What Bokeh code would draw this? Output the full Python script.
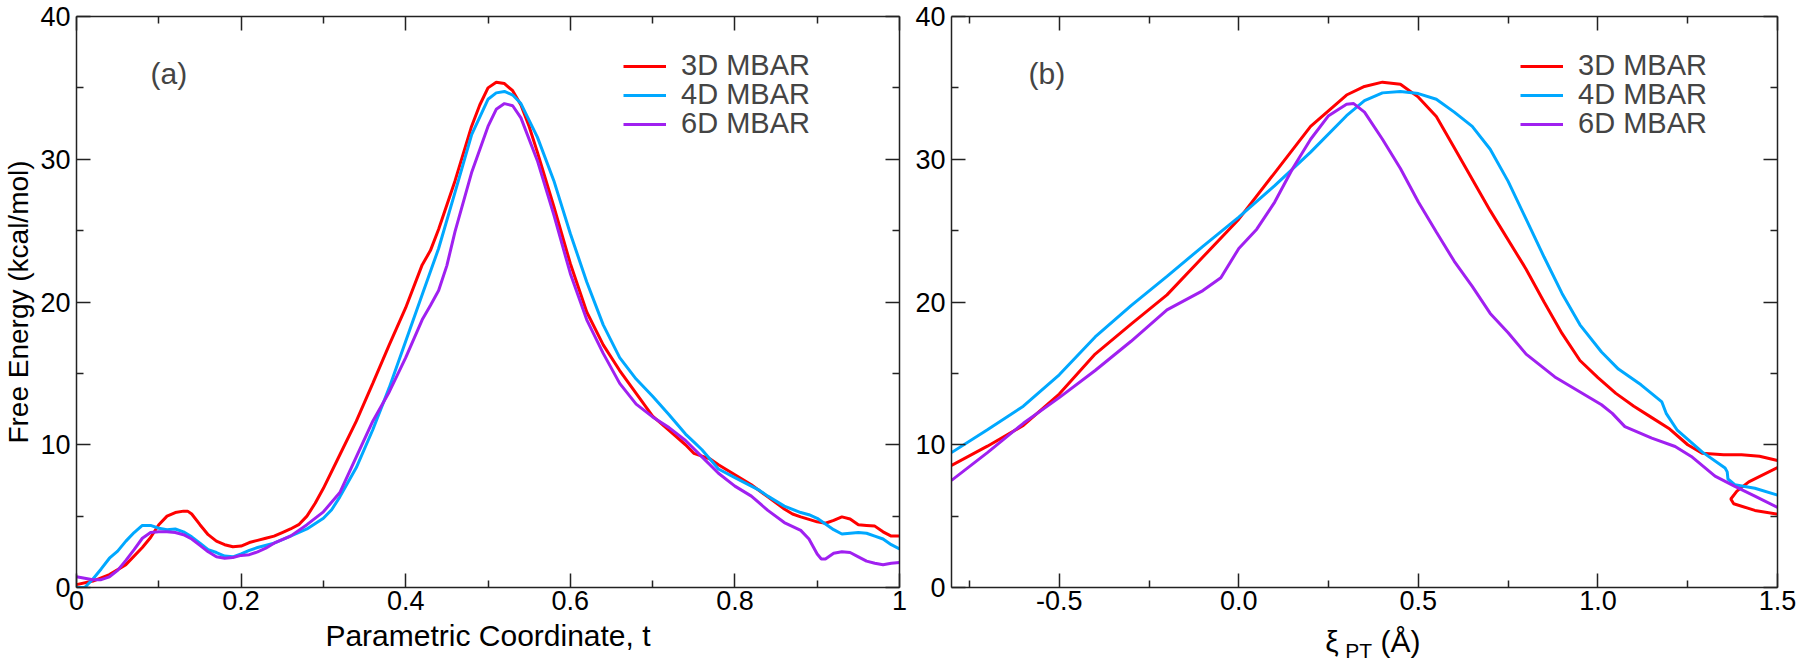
from bokeh.plotting import figure
from bokeh.layouts import row
from bokeh.models import (LinearAxis, FixedTicker, Range1d, Label, Legend, LegendItem,
                          PrintfTickFormatter)
from bokeh.embed import file_html
from bokeh.resources import INLINE

# ---------------- data ----------------
SERIES = ["3D MBAR", "4D MBAR", "6D MBAR"]
COLORS = ["#ff0000", "#00a8ff", "#a020f0"]

# panel (a): free energy vs parametric coordinate t
A_T_3D = [0, 0.02, 0.04, 0.06, 0.08, 0.09, 0.10, 0.11, 0.12, 0.13, 0.135, 0.14, 0.15, 0.16, 0.17,
          0.18, 0.19, 0.20, 0.21, 0.22, 0.23, 0.24, 0.25, 0.26, 0.27, 0.28, 0.29, 0.30, 0.32, 0.34,
          0.36, 0.38, 0.40, 0.42, 0.43, 0.44, 0.46, 0.48, 0.49, 0.50, 0.51, 0.52, 0.53, 0.54, 0.55,
          0.56, 0.58, 0.60, 0.62, 0.64, 0.66, 0.68, 0.70, 0.72, 0.74, 0.75, 0.76, 0.77, 0.78, 0.80,
          0.82, 0.84, 0.86, 0.87, 0.88, 0.90, 0.91, 0.92, 0.93, 0.94, 0.95, 0.96, 0.97, 0.98, 0.99, 1.0]
A_E_3D = [0.2, 0.45, 0.9, 1.6, 2.8, 3.5, 4.4, 5.0, 5.25, 5.35, 5.35, 5.15, 4.4, 3.7, 3.25,
          3.0, 2.85, 2.9, 3.15, 3.3, 3.45, 3.6, 3.85, 4.1, 4.4, 5.0, 5.9, 6.95, 9.3, 11.65,
          14.3, 17.0, 19.6, 22.6, 23.6, 25.1, 28.5, 32.3, 33.8, 35.0, 35.4, 35.3, 34.8, 33.8, 32.3,
          30.5, 26.7, 22.7, 19.3, 17.0, 15.2, 13.6, 12.0, 11.0, 10.0, 9.4, 9.2, 9.0, 8.6, 7.9,
          7.2, 6.35, 5.5, 5.15, 4.95, 4.6, 4.5, 4.7, 4.95, 4.8, 4.4, 4.35, 4.3, 3.9, 3.6, 3.6]

A_T_4D = [0, 0.01, 0.02, 0.03, 0.04, 0.05, 0.06, 0.07, 0.08, 0.09, 0.10, 0.11, 0.12, 0.13, 0.14,
          0.15, 0.16, 0.17, 0.18, 0.19, 0.20, 0.21, 0.22, 0.24, 0.26, 0.28, 0.30, 0.31, 0.32, 0.34,
          0.36, 0.38, 0.40, 0.42, 0.44, 0.46, 0.48, 0.50, 0.51, 0.52, 0.53, 0.54, 0.56, 0.58, 0.60,
          0.62, 0.64, 0.66, 0.68, 0.70, 0.72, 0.74, 0.75, 0.76, 0.78, 0.80, 0.82, 0.83, 0.84, 0.86,
          0.88, 0.89, 0.90, 0.92, 0.93, 0.94, 0.95, 0.96, 0.97, 0.98, 0.99, 1.0]
A_E_4D = [0.0, 0.0, 0.6, 1.3, 2.05, 2.55, 3.25, 3.85, 4.35, 4.35, 4.15, 4.05, 4.1, 3.9, 3.55,
          3.1, 2.65, 2.45, 2.2, 2.15, 2.35, 2.6, 2.8, 3.1, 3.6, 4.1, 4.85, 5.45, 6.35, 8.4,
          11.05, 14.0, 17.25, 20.5, 23.75, 27.7, 31.7, 34.2, 34.65, 34.75, 34.5, 33.9, 31.55, 28.5, 24.8,
          21.4, 18.4, 16.1, 14.6, 13.4, 12.1, 10.75, 10.2, 9.65, 8.3, 7.7, 7.1, 6.8, 6.4, 5.7,
          5.25, 5.1, 4.85, 4.05, 3.75, 3.8, 3.85, 3.8, 3.6, 3.4, 3.0, 2.7]

A_T_6D = [0, 0.01, 0.02, 0.03, 0.04, 0.05, 0.06, 0.07, 0.08, 0.09, 0.10, 0.11, 0.12, 0.13, 0.14,
          0.15, 0.16, 0.17, 0.18, 0.19, 0.20, 0.21, 0.22, 0.23, 0.24, 0.26, 0.28, 0.30, 0.32, 0.34,
          0.36, 0.38, 0.40, 0.42, 0.43, 0.44, 0.45, 0.46, 0.48, 0.50, 0.51, 0.52, 0.53, 0.54, 0.56,
          0.58, 0.60, 0.62, 0.64, 0.66, 0.68, 0.70, 0.72, 0.74, 0.76, 0.78, 0.80, 0.82, 0.84, 0.86,
          0.88, 0.89, 0.90, 0.905, 0.91, 0.92, 0.93, 0.94, 0.95, 0.96, 0.97, 0.98, 0.99, 1.0]
A_E_6D = [0.75, 0.65, 0.55, 0.55, 0.75, 1.2, 1.9, 2.65, 3.45, 3.85, 3.9, 3.9, 3.85, 3.7, 3.4,
          2.95, 2.5, 2.15, 2.05, 2.1, 2.25, 2.3, 2.5, 2.75, 3.1, 3.6, 4.4, 5.3, 6.65, 9.15,
          11.65, 13.7, 16.1, 18.75, 19.75, 20.8, 22.55, 24.95, 29.05, 32.3, 33.5, 33.9, 33.75, 32.9, 29.9,
          26.1, 22.0, 18.75, 16.4, 14.3, 12.85, 11.95, 11.2, 10.3, 9.15, 8.0, 7.1, 6.4, 5.4, 4.55,
          4.0, 3.4, 2.35, 2.0, 2.0, 2.4, 2.5, 2.45, 2.15, 1.85, 1.7, 1.6, 1.7, 1.75]

# panel (b): free energy vs xi_PT (Angstrom)
B_X_3D = [-0.8, -0.7, -0.6, -0.5, -0.4, -0.3, -0.2, -0.1, 0.0, 0.1, 0.2, 0.3, 0.35, 0.4, 0.45,
          0.5, 0.55, 0.6, 0.7, 0.8, 0.85, 0.9, 0.95, 1.0, 1.05, 1.1, 1.15, 1.2, 1.25, 1.29,
          1.35, 1.4, 1.45, 1.5, 1.55, 1.5, 1.42, 1.387, 1.37, 1.378, 1.437, 1.503, 1.55]
B_E_3D = [8.55, 9.9, 11.35, 13.55, 16.35, 18.45, 20.5, 23.15, 25.8, 29.05, 32.3, 34.5, 35.1, 35.4, 35.25,
          34.35, 33.0, 30.8, 26.4, 22.3, 20.0, 17.8, 15.9, 14.7, 13.6, 12.7, 11.9, 11.1, 10.0, 9.4,
          9.3, 9.3, 9.2, 8.9, 8.6, 8.4, 7.4, 6.75, 6.2, 5.87, 5.4, 5.13, 4.95]

B_X_4D = [-0.8, -0.7, -0.6, -0.5, -0.4, -0.3, -0.2, -0.1, 0.0, 0.1, 0.2, 0.3, 0.35, 0.4, 0.45,
          0.5, 0.55, 0.6, 0.65, 0.7, 0.75, 0.8, 0.85, 0.9, 0.95, 1.01, 1.057, 1.12, 1.178, 1.19,
          1.22, 1.29, 1.354, 1.36, 1.362, 1.381, 1.437, 1.503]
B_E_4D = [9.45, 11.05, 12.7, 14.9, 17.55, 19.75, 21.8, 23.9, 25.95, 28.15, 30.5, 33.05, 34.1, 34.65, 34.75,
          34.6, 34.2, 33.3, 32.3, 30.7, 28.45, 25.8, 23.15, 20.6, 18.4, 16.5, 15.3, 14.2, 13.0, 12.2,
          11.05, 9.5, 8.37, 8.1, 7.6, 7.2, 6.95, 6.45]

B_X_6D = [-0.8, -0.7, -0.6, -0.5, -0.4, -0.3, -0.2, -0.1, -0.05, 0.0, 0.05, 0.1, 0.15, 0.2, 0.25,
          0.3, 0.32, 0.35, 0.4, 0.45, 0.5, 0.55, 0.6, 0.65, 0.7, 0.75, 0.8, 0.88, 1.01, 1.04,
          1.075, 1.15, 1.215, 1.26, 1.326, 1.38, 1.437, 1.503]
B_E_6D = [7.5, 9.45, 11.5, 13.3, 15.2, 17.25, 19.45, 20.8, 21.7, 23.75, 25.1, 27.0, 29.35, 31.4, 33.05,
          33.85, 33.9, 33.3, 31.4, 29.35, 27.0, 24.9, 22.85, 21.1, 19.2, 17.85, 16.35, 14.75, 12.8, 12.2,
          11.27, 10.46, 9.88, 9.18, 7.8, 7.1, 6.4, 5.57]

# ticks
A_XTICKS = [0, 0.2, 0.4, 0.6, 0.8, 1.0]
A_XLABELS = ["0", "0.2", "0.4", "0.6", "0.8", "1"]
A_XMINOR = [0.1, 0.3, 0.5, 0.7, 0.9]
B_XTICKS = [-0.5, 0.0, 0.5, 1.0, 1.5]
B_XLABELS = ["-0.5", "0.0", "0.5", "1.0", "1.5"]
B_XMINOR = [-0.75, -0.25, 0.25, 0.75, 1.25]
YTICKS = [0, 10, 20, 30, 40]
YLABELS = ["0", "10", "20", "30", "40"]
YMINOR = [5, 15, 25, 35]

FONT = "Liberation Sans"
AXIS_COLOR = "#222222"
NB = "\u00a0"
LEGEND_Y = [505, 476, 447]   # screen offsets of the three legend rows


def style_axis(ax, ticks, minor, labels, show_labels):
    ax.ticker = FixedTicker(ticks=ticks, minor_ticks=minor)
    ax.axis_line_color = AXIS_COLOR
    ax.axis_line_width = 1.5
    ax.major_tick_line_color = AXIS_COLOR
    ax.major_tick_line_width = 1.5
    ax.minor_tick_line_color = AXIS_COLOR
    ax.minor_tick_line_width = 1.5
    ax.major_tick_in = 14
    ax.major_tick_out = 0
    ax.minor_tick_in = 7
    ax.minor_tick_out = 0
    ax.major_label_text_font = FONT
    if show_labels:
        ax.major_label_overrides = {t: l for t, l in zip(ticks, labels)}
        ax.major_label_text_color = "black"
        ax.major_label_text_font_size = "27px"
    else:
        ax.major_label_overrides = {t: "" for t in ticks}
        ax.major_label_text_color = None
        ax.major_label_text_font_size = "1px"
        ax.major_label_standoff = 0


def style_title(ax, text, size, standoff):
    ax.axis_label = text
    ax.axis_label_text_font = FONT
    ax.axis_label_text_font_size = size
    ax.axis_label_text_font_style = "normal"
    ax.axis_label_text_color = "black"
    ax.axis_label_standoff = standoff


def make_panel(xr, xticks, xlabels, xminor, fmt, series_x, series_e, width, bl, br, tag, tag_x,
               legend_x):
    p = figure(width=width, height=665, x_range=Range1d(*xr), y_range=Range1d(0, 40),
               output_backend="svg", toolbar_location=None, title=None,
               min_border_left=bl, min_border_right=br, min_border_top=16, min_border_bottom=78)
    p.xgrid.visible = False
    p.ygrid.visible = False
    p.outline_line_color = None
    p.background_fill_color = "white"
    p.border_fill_color = "white"

    xb = p.xaxis[0]
    yl = p.yaxis[0]
    style_axis(xb, xticks, xminor, xlabels, True)
    xb.major_label_standoff = 3
    xb.formatter = PrintfTickFormatter(format=fmt)
    style_axis(yl, YTICKS, YMINOR, YLABELS, True)
    yl.major_label_standoff = 6
    yl.formatter = PrintfTickFormatter(format="%d")

    top = LinearAxis()
    style_axis(top, xticks, xminor, xlabels, False)
    p.add_layout(top, "above")
    right = LinearAxis()
    style_axis(right, YTICKS, YMINOR, YLABELS, False)
    p.add_layout(right, "right")

    for name, col, xs, es, ly in zip(SERIES, COLORS, series_x, series_e, LEGEND_Y):
        r = p.line(xs, es, line_color=col, line_width=3)
        leg = Legend(items=[LegendItem(label=name, renderers=[r])], location=(legend_x, ly),
                     border_line_color=None, background_fill_alpha=0,
                     label_text_font=FONT, label_text_font_size="29px",
                     glyph_width=43, glyph_height=20, label_height=20, label_standoff=15,
                     spacing=0, padding=0, margin=0)
        p.add_layout(leg)

    p.add_layout(Label(x=tag_x, y=514, x_units="screen", y_units="screen", text=tag,
                       text_font=FONT, text_font_size="30px", text_baseline="middle",
                       text_align="left"))
    return p, xb, yl


pa, pa_x, pa_y = make_panel((0, 1), A_XTICKS, A_XLABELS, A_XMINOR, "%g",
                            [A_T_3D, A_T_4D, A_T_6D], [A_E_3D, A_E_4D, A_E_6D],
                            width=912, bl=73, br=13, tag="(a)", tag_x=74, legend_x=547)
pb, pb_x, pb_y = make_panel((-0.8, 1.5), B_XTICKS, B_XLABELS, B_XMINOR, "%.1f",
                            [B_X_3D, B_X_4D, B_X_6D], [B_E_3D, B_E_4D, B_E_6D],
                            width=888, bl=38, br=23, tag="(b)", tag_x=77, legend_x=569)

# axis titles
style_title(pa_y, "Free Energy (kcal/mol)", "28px", 3)
style_title(pa_x, "Parametric Coordinate, t", "30px", 6)

# panel (b): subscript "PT" is the title of the tick axis, "ξ  (Å)" sits on a
# tick-less second axis pulled back up above it
style_title(pb_x, "PT" + NB * 2, "21px", 26)
main = LinearAxis(ticker=FixedTicker(ticks=[]))
main.axis_line_color = None
main.major_tick_line_color = None
main.minor_tick_line_color = None
main.major_tick_out = 0
main.minor_tick_out = 0
main.major_label_text_color = None
main.major_label_text_font_size = "1px"
main.major_label_standoff = 0
style_title(main, NB * 2 + "ξ" + NB * 5 + "(Å)", "30px", -40)
pb.add_layout(main, "below")

layout = row(pa, pb, spacing=0)
open("out.html", "w").write(file_html(layout, INLINE))
